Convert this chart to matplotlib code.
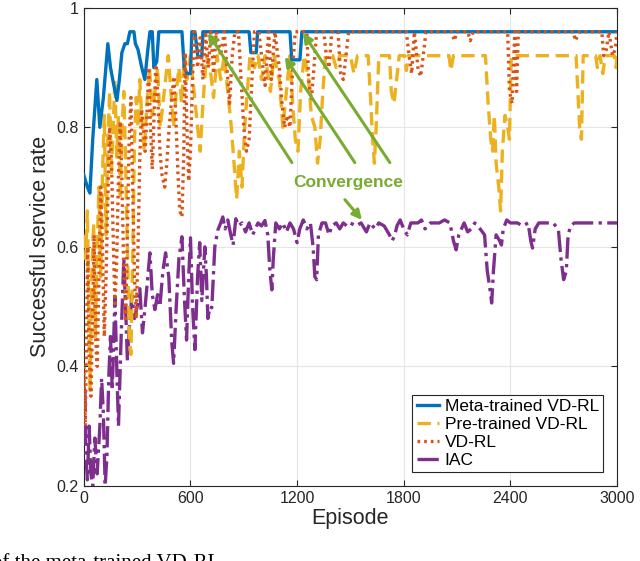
import numpy as np
import matplotlib
matplotlib.use("Agg")
import matplotlib.pyplot as plt

plt.rcParams['font.family'] = ['Liberation Sans', 'DejaVu Sans']

# meta-trained VD-RL (episode, rate)
meta_ep = [0, 20, 34, 50, 73, 90, 110, 135, 150, 169, 186, 200, 214, 231, 245, 259, 282,
           290, 305, 326, 343, 360, 372, 385, 394, 410, 422, 552, 565, 580, 600, 608, 625,
           642, 664, 670, 930, 940, 970, 978, 1160, 1170, 1216, 1227, 3000]
meta_val = [0.72, 0.70, 0.69, 0.78, 0.88, 0.80, 0.85, 0.94, 0.90, 0.87, 0.845, 0.88, 0.925,
            0.94, 0.94, 0.96, 0.96, 0.94, 0.93, 0.90, 0.88, 0.93, 0.96, 0.96, 0.90, 0.91,
            0.96, 0.96, 0.90, 0.89, 0.89, 0.96, 0.96, 0.918, 0.918, 0.96, 0.96, 0.925, 0.925,
            0.96, 0.96, 0.913, 0.913, 0.96, 0.96]

# pre-trained VD-RL
pre_ep = [0, 10, 20, 28, 35, 45, 55, 65, 75, 85, 95, 105, 115, 125, 135, 145, 155, 165, 175,
          185, 195, 205, 215, 225, 235, 245, 255, 265, 275, 285, 295, 305, 315, 325, 340, 355,
          370, 385, 400, 415, 430, 445, 460, 475, 490, 505, 520, 535, 550, 565, 580, 600, 620,
          640, 655, 670, 690, 710, 730, 750, 770, 790, 810, 830, 845, 860, 875, 890, 905, 920,
          935, 960, 980, 1000, 1020, 1050, 1070, 1100, 1120, 1140, 1160, 1175, 1190, 1205,
          1220, 1240, 1265, 1280, 1300, 1315, 1330, 1345, 1360, 1400, 1420, 1440, 1500, 1520,
          1540, 1600, 1615, 1625, 1635, 1645, 1660, 1720, 1730, 1745, 1760, 1775, 1805, 1815,
          1825, 2055, 2065, 2080, 2260, 2275, 2290, 2300, 2310, 2320, 2335, 2345, 2355, 2370,
          2385, 2395, 2405, 2770, 2780, 2790, 2800, 2810, 2880, 2890, 2905, 2920, 2935, 2985,
          2995, 3000]
pre_val = [0.62, 0.58, 0.66, 0.50, 0.36, 0.55, 0.64, 0.45, 0.60, 0.70, 0.55, 0.72, 0.82, 0.62,
           0.78, 0.86, 0.72, 0.80, 0.88, 0.75, 0.82, 0.68, 0.80, 0.86, 0.74, 0.60, 0.45, 0.42,
           0.58, 0.78, 0.85, 0.80, 0.88, 0.82, 0.76, 0.84, 0.90, 0.82, 0.86, 0.90, 0.80, 0.84,
           0.88, 0.92, 0.86, 0.80, 0.86, 0.90, 0.84, 0.92, 0.88, 0.92, 0.86, 0.80, 0.76, 0.84,
           0.92, 0.90, 0.85, 0.92, 0.88, 0.92, 0.86, 0.80, 0.74, 0.68, 0.76, 0.70, 0.80, 0.86,
           0.92, 0.90, 0.92, 0.88, 0.92, 0.86, 0.92, 0.88, 0.80, 0.86, 0.92, 0.84, 0.78, 0.76,
           0.86, 0.92, 0.88, 0.82, 0.80, 0.74, 0.78, 0.86, 0.92, 0.92, 0.90, 0.92, 0.92, 0.89,
           0.92, 0.92, 0.84, 0.78, 0.74, 0.80, 0.92, 0.92, 0.86, 0.84, 0.88, 0.92, 0.92, 0.895,
           0.92, 0.92, 0.895, 0.92, 0.92, 0.84, 0.78, 0.76, 0.82, 0.74, 0.70, 0.66, 0.76, 0.82,
           0.80, 0.78, 0.92, 0.92, 0.86, 0.80, 0.78, 0.92, 0.92, 0.90, 0.92, 0.89, 0.92, 0.92,
           0.90, 0.92]

# VD-RL
vd_ep = [0, 8, 15, 22, 30, 40, 50, 58, 66, 75, 85, 95, 105, 115, 125, 135, 145, 155, 165, 175,
         185, 195, 205, 215, 225, 235, 245, 255, 265, 275, 285, 295, 305, 315, 325, 335, 345,
         355, 365, 375, 385, 395, 405, 415, 428, 440, 455, 467, 480, 495, 507, 520, 530, 540,
         552, 562, 570, 580, 590, 600, 610, 620, 640, 655, 670, 685, 700, 715, 730, 745, 770,
         790, 805, 820, 835, 850, 870, 885, 900, 915, 930, 946, 960, 985, 1000, 1020, 1040,
         1055, 1075, 1100, 1115, 1130, 1145, 1160, 1175, 1190, 1255, 1265, 1280, 1295, 1310,
         1350, 1365, 1380, 1395, 1430, 1445, 1460, 1475, 1490, 1815, 1830, 1845, 1860, 1880,
         1895, 1910, 1925, 2070, 2085, 2100, 2160, 2175, 2190, 2385, 2395, 2410, 2425, 2435,
         2445, 2755, 2765, 2790, 2915, 2925, 2940, 2955, 2975, 2990, 3000]
vd_val = [0.40, 0.30, 0.45, 0.60, 0.42, 0.35, 0.50, 0.62, 0.45, 0.40, 0.55, 0.70, 0.60, 0.45,
          0.55, 0.68, 0.80, 0.75, 0.62, 0.50, 0.58, 0.72, 0.81, 0.70, 0.56, 0.48, 0.62, 0.78,
          0.85, 0.70, 0.55, 0.48, 0.60, 0.75, 0.83, 0.80, 0.76, 0.82, 0.90, 0.80, 0.73, 0.82,
          0.905, 0.86, 0.76, 0.72, 0.70, 0.74, 0.80, 0.85, 0.885, 0.80, 0.72, 0.66, 0.65, 0.75,
          0.925, 0.80, 0.71, 0.76, 0.86, 0.96, 0.90, 0.95, 0.88, 0.96, 0.90, 0.96, 0.89, 0.96,
          0.92, 0.96, 0.90, 0.84, 0.92, 0.96, 0.96, 0.88, 0.80, 0.76, 0.78, 0.88, 0.96, 0.96,
          0.92, 0.87, 0.96, 0.88, 0.96, 0.90, 0.84, 0.80, 0.82, 0.80, 0.90, 0.96, 0.96, 0.88,
          0.846, 0.90, 0.96, 0.96, 0.92, 0.90, 0.96, 0.96, 0.89, 0.88, 0.92, 0.96, 0.96, 0.92,
          0.89, 0.96, 0.90, 0.885, 0.92, 0.96, 0.96, 0.945, 0.96, 0.96, 0.945, 0.96, 0.96, 0.86,
          0.84, 0.96, 0.86, 0.96, 0.96, 0.945, 0.96, 0.96, 0.92, 0.93, 0.96, 0.92, 0.93, 0.96]

# IAC
iac_ep = [0, 6, 12, 20, 30, 40, 50, 62, 75, 90, 100, 110, 120, 130, 140, 150, 160, 175, 185,
          195, 210, 225, 235, 245, 255, 270, 285, 300, 315, 330, 345, 360, 372, 385, 400, 415,
          428, 445, 460, 478, 495, 505, 520, 535, 552, 565, 578, 590, 600, 612, 625, 640, 652,
          664, 681, 690, 698, 710, 720, 737, 754, 770, 782, 795, 810, 827, 840, 855, 870, 890,
          910, 930, 950, 965, 980, 1000, 1019, 1035, 1047, 1058, 1066, 1080, 1100, 1120, 1140,
          1160, 1180, 1200, 1215, 1235, 1255, 1275, 1290, 1300, 1310, 1320, 1340, 1360, 1380,
          1395, 1420, 1440, 1460, 1480, 1500, 1530, 1560, 1590, 1610, 1640, 1660, 1690, 1720,
          1735, 1750, 1762, 1780, 1800, 1820, 1840, 1880, 1900, 1920, 1950, 2000, 2030, 2060,
          2080, 2095, 2110, 2125, 2140, 2160, 2180, 2200, 2230, 2255, 2270, 2285, 2295, 2305,
          2320, 2340, 2350, 2360, 2380, 2400, 2440, 2470, 2500, 2515, 2525, 2540, 2560, 2600,
          2640, 2670, 2685, 2700, 2715, 2725, 2740, 2760, 3000]
iac_val = [0.36, 0.36, 0.25, 0.21, 0.30, 0.22, 0.20, 0.28, 0.22, 0.30, 0.38, 0.32, 0.20, 0.25,
           0.38, 0.45, 0.36, 0.517, 0.40, 0.30, 0.45, 0.58, 0.50, 0.41, 0.46, 0.52, 0.48, 0.50,
           0.53, 0.456, 0.50, 0.55, 0.59, 0.52, 0.495, 0.52, 0.50, 0.56, 0.59, 0.55, 0.44, 0.405,
           0.50, 0.58, 0.617, 0.52, 0.444, 0.55, 0.615, 0.50, 0.428, 0.55, 0.607, 0.51, 0.60,
           0.55, 0.48, 0.50, 0.498, 0.60, 0.628, 0.64, 0.65, 0.63, 0.645, 0.62, 0.603, 0.647,
           0.635, 0.64, 0.625, 0.64, 0.62, 0.63, 0.64, 0.635, 0.644, 0.62, 0.56, 0.528, 0.58,
           0.64, 0.63, 0.64, 0.625, 0.64, 0.63, 0.607, 0.63, 0.645, 0.63, 0.64, 0.60, 0.55,
           0.545, 0.62, 0.64, 0.64, 0.62, 0.635, 0.64, 0.63, 0.64, 0.635, 0.64, 0.635, 0.64,
           0.625, 0.64, 0.63, 0.64, 0.635, 0.62, 0.61, 0.62, 0.635, 0.645, 0.63, 0.62, 0.64,
           0.64, 0.645, 0.63, 0.64, 0.64, 0.645, 0.64, 0.61, 0.595, 0.62, 0.63, 0.64, 0.625,
           0.63, 0.64, 0.63, 0.62, 0.56, 0.53, 0.506, 0.56, 0.62, 0.61, 0.603, 0.63, 0.645,
           0.64, 0.64, 0.635, 0.64, 0.61, 0.598, 0.63, 0.64, 0.64, 0.64, 0.63, 0.58, 0.545,
           0.56, 0.62, 0.635, 0.64, 0.64]

x_ticks = [0, 600, 1200, 1800, 2400, 3000]
y_ticks = [0.2, 0.4, 0.6, 0.8, 1.0]
y_tick_labels = ['0.2', '0.4', '0.6', '0.8', '1']

green = '#77AC30'

fig = plt.figure(figsize=(6.4, 5.61), dpi=100)
ax = fig.add_axes([0.131, 0.134, 0.833, 0.852])

ax.plot(iac_ep, iac_val, color='#7E2F8E', lw=2.4, ls='-.', label='IAC', zorder=3)
ax.plot(pre_ep, pre_val, color='#EDB120', lw=2.4, ls=(0, (4, 2)), label='Pre-trained VD-RL', zorder=4)
ax.plot(vd_ep, vd_val, color='#D95319', lw=2.4, ls=(0, (0.8, 1.2)), label='VD-RL', zorder=5)
ax.plot(meta_ep, meta_val, color='#0072BD', lw=2.4, ls='-', label='Meta-trained VD-RL', zorder=4)

# convergence arrows
arrows = [((1171, 0.741), (698, 0.958)),
          ((1525, 0.741), (1131, 0.918)),
          ((1722, 0.741), (1233, 0.958)),
          ((1469, 0.679), (1565, 0.645))]
for tail, head in arrows:
    ax.annotate('', xy=head, xytext=tail,
                arrowprops=dict(arrowstyle='-|>', color=green, lw=2.2, mutation_scale=14,
                                shrinkA=0, shrinkB=0), zorder=6)
ax.text(1486, 0.707, 'Convergence', color=green, fontsize=12.5, fontweight='bold',
        ha='center', va='center', zorder=6)

ax.set_xlim(0, 3000)
ax.set_ylim(0.2, 1.0)
ax.set_xticks(x_ticks)
ax.set_yticks(y_ticks)
ax.set_yticklabels(y_tick_labels)
ax.tick_params(direction='in', top=True, right=True, labelsize=11.5, color='#262626',
               labelcolor='#262626', length=4)
ax.grid(True, color='#e6e6e6', lw=0.8)
ax.set_axisbelow(True)
for s in ax.spines.values():
    s.set_color('#262626')
    s.set_linewidth(0.8)

ax.set_xlabel('Episode', fontsize=15.5, color='#262626', labelpad=2)
ax.set_ylabel('Successful service rate', fontsize=15.5, color='#262626', labelpad=4)

h, l = ax.get_legend_handles_labels()
order = [3, 1, 2, 0]
leg = ax.legend([h[i] for i in order], [l[i] for i in order], loc='lower right',
                bbox_to_anchor=(0.974, 0.029), fontsize=12.5, handlelength=1.3,
                handletextpad=0.3, labelspacing=0.15, borderpad=0.25, borderaxespad=0,
                fancybox=False, framealpha=1, edgecolor='#262626')
leg.get_frame().set_linewidth(0.8)

fig.text(-0.012, -0.013, 'of the meta-trained VD-RL', family='Liberation Serif',
         fontsize=15, ha='left', va='baseline')

fig.savefig('out.png', dpi=100)
